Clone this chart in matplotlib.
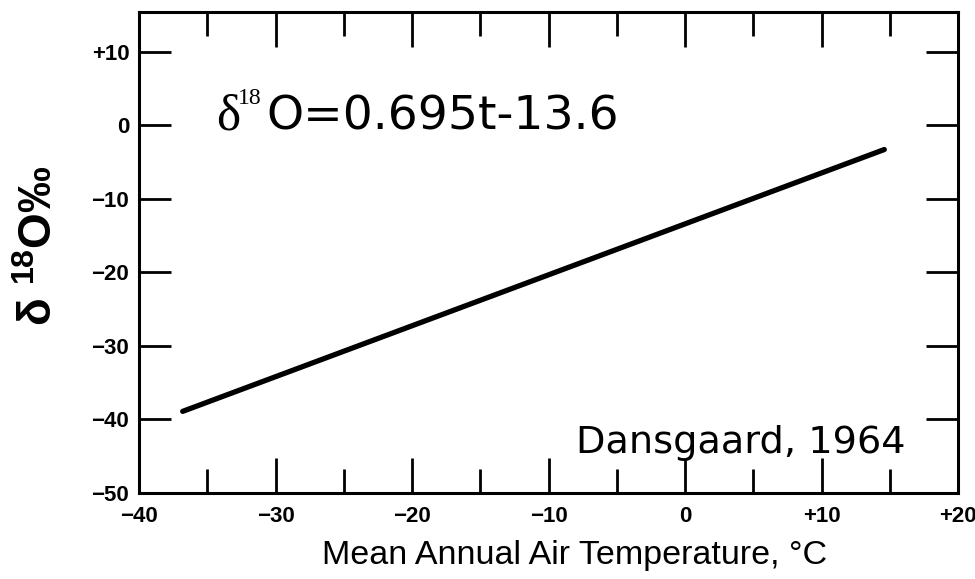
import matplotlib
matplotlib.use("Agg")
import matplotlib.pyplot as plt

# data (Dansgaard 1964 regression line)
temps = [-36.8, 14.6]          # mean annual air temperature, deg C
d18o = [-38.9, -3.3]           # delta 18O, per mil

xticks = [-40, -30, -20, -10, 0, 10, 20]
xlabels = ["\u221240", "\u221230", "\u221220", "\u221210", "0", "+10", "+20"]
xminor = [-35, -25, -15, -5, 5, 15]
yticks = [-50, -40, -30, -20, -10, 0, 10]
ylabels = ["\u221250", "\u221240", "\u221230", "\u221220", "\u221210", "0", "+10"]

plt.rcParams['mathtext.fontset'] = 'custom'
plt.rcParams['mathtext.rm'] = 'Liberation Sans:bold'
plt.rcParams['mathtext.it'] = 'Liberation Sans:bold'
plt.rcParams['mathtext.bf'] = 'Liberation Sans:bold'

W, H = 975, 579
fig = plt.figure(figsize=(W / 100, H / 100), dpi=100)
ax = fig.add_axes([139 / W, 86 / H, 819 / W, 481 / H])

ax.plot(temps, d18o, color='black', lw=3.8, solid_capstyle='round')

ax.set_xlim(-40, 20)
ax.set_ylim(-50, 15.4)
ax.set_xticks(xticks, labels=xlabels)
ax.set_xticks(xminor, minor=True)
ax.set_yticks(yticks, labels=ylabels)

for s in ax.spines.values():
    s.set_linewidth(2.2)

ax.tick_params(axis='x', which='major', direction='in', top=True, bottom=True,
               length=25, width=2, pad=9, labelsize=16)
ax.tick_params(axis='x', which='minor', direction='in', top=True, bottom=True,
               length=17, width=2)
ax.tick_params(axis='y', which='major', direction='in', left=True, right=True,
               length=23, width=2, pad=7, labelsize=16)
for lab in ax.get_xticklabels() + ax.get_yticklabels():
    lab.set_fontfamily('Liberation Sans')
    lab.set_fontweight('bold')

ax.set_xlabel("Mean Annual Air Temperature, \u00b0C", family='Liberation Sans',
              fontsize=24.5, va='top')
ax.xaxis.set_label_coords((575 - 139) / 819, (39 - 86) / 481)

ax.set_ylabel("\u03b4 $^{18}$O\u2030", family='Liberation Sans', fontweight='bold',
              fontsize=33)
ax.yaxis.set_label_coords((62 - 139) / 819, (333 - 86) / 481)

# equation label, pieced together (serif delta, sans body)
fig.text(216 / W, 1 - 130 / H, "\u03b4", family='Liberation Serif', fontsize=37,
         va='baseline', ha='left')
fig.text(238 / W, 1 - 104 / H, "18", family='Liberation Serif', fontsize=17,
         va='baseline', ha='left')
fig.text(266 / W, 1 - 130 / H, "O=0.695t-13.6", family='DejaVu Sans', fontsize=34,
         va='baseline', ha='left')

fig.text(576 / W, 1 - 453 / H, "Dansgaard, 1964", family='DejaVu Sans', fontsize=27.5,
         va='baseline', ha='left')

fig.savefig("out.png", dpi=100)
